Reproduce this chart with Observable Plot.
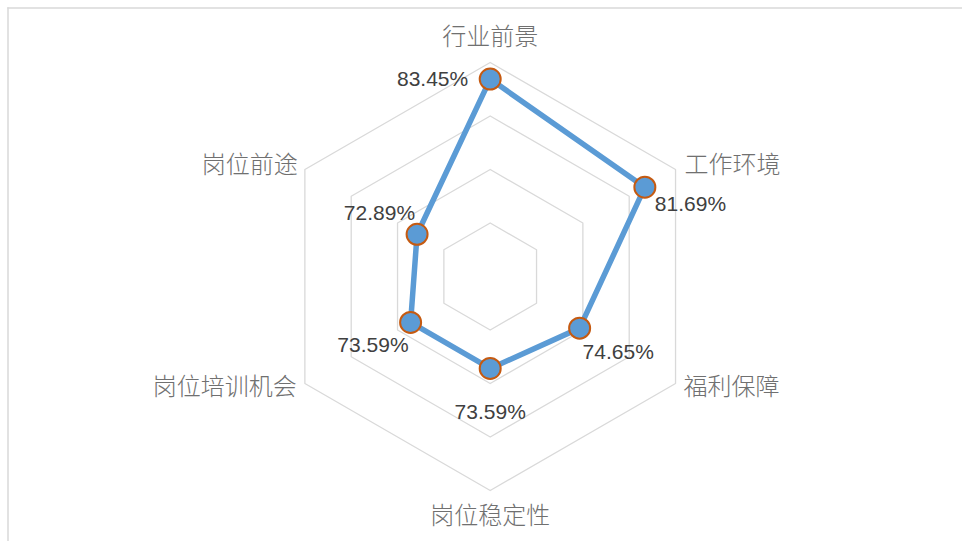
<!DOCTYPE html>
<html>
<head>
<meta charset="utf-8">
<script src="https://cdn.jsdelivr.net/npm/d3@7"></script>
<script src="https://cdn.jsdelivr.net/npm/@observablehq/plot@0.6"></script>
<style>
  html, body { margin: 0; padding: 0; background: #fff; }
  #chart svg { display: block; }
</style>
</head>
<body>
<div id="chart"></div>
<script>
// ---- data ----
const categories = ["行业前景", "工作环境", "福利保障", "岗位稳定性", "岗位培训机会", "岗位前途"];
const values = [83.45, 81.69, 74.65, 73.59, 73.59, 72.89];
const ringLevels = [70, 75, 80, 85];
const radialMin = 65;
const radialMax = 85;

// ---- layout / style ----
const W = 962, H = 541;
const cx = 489.7, cy = 276, R = 214;
const labelOffsets = [
  {dx: -22, dy: 0, anchor: "end"},
  {dx: 10, dy: 17, anchor: "start"},
  {dx: 3, dy: 24, anchor: "start"},
  {dx: 0, dy: 44, anchor: "middle"},
  {dx: -2, dy: 23, anchor: "end"},
  {dx: -2, dy: -21, anchor: "end"}
];
const catOffsets = [
  {dx: 0, dy: -25, anchor: "middle"},
  {dx: 9, dy: -4, anchor: "start"},
  {dx: 8, dy: 4, anchor: "start"},
  {dx: 0, dy: 26, anchor: "middle"},
  {dx: -8, dy: 4, anchor: "end"},
  {dx: -7, dy: -4, anchor: "end"}
];

const n = categories.length;
const norm = v => (v - radialMin) / (radialMax - radialMin);
const ang = i => (i * 2 * Math.PI) / n;
const px = (i, v) => norm(v) * Math.sin(ang(i));
const py = (i, v) => norm(v) * Math.cos(ang(i));

const rings = ringLevels.flatMap(level =>
  categories.map((c, i) => ({level, x: px(i, level), y: py(i, level)}))
);
const series = values.map((v, i) => ({
  cat: categories[i], v, x: px(i, v), y: py(i, v),
  label: v.toFixed(2) + "%", ...labelOffsets[i]
}));
const cats = categories.map((c, i) => ({
  cat: c, x: px(i, radialMax), y: py(i, radialMax), ...catOffsets[i]
}));

function textGroup(data, key, fill, size, family, weight) {
  return data.map(d => Plot.text([d], {
    x: "x", y: "y", text: key, dx: d.dx, dy: d.dy, textAnchor: d.anchor,
    lineAnchor: "middle", fill, fontSize: size, fontFamily: family, fontWeight: weight
  }));
}

const chart = Plot.plot({
  width: W,
  height: H,
  marginTop: 7.5,
  marginLeft: 7.5,
  marginRight: 0,
  marginBottom: 0,
  x: {type: "linear", domain: [-1, 1], range: [cx - R, cx + R], axis: null},
  y: {type: "linear", domain: [-1, 1], range: [cy + R, cy - R], axis: null},
  marks: [
    Plot.frame({anchor: "top", stroke: "#d9d9d9", strokeWidth: 1.5}),
    Plot.frame({anchor: "left", stroke: "#d9d9d9", strokeWidth: 1.5}),
    Plot.line(rings, {x: "x", y: "y", z: "level", curve: "linear-closed", stroke: "#d9d9d9", strokeWidth: 1.3}),
    Plot.line(series, {x: "x", y: "y", curve: "linear-closed", stroke: "#5b9bd5", strokeWidth: 5.5, strokeLinejoin: "round"}),
    Plot.dot(series, {x: "x", y: "y", r: 10.5, fill: "#5b9bd5", stroke: "#c55a11", strokeWidth: 2}),
    ...textGroup(series, "label", "#404040", 21, "'Liberation Sans', Arial, sans-serif", 400),
    ...textGroup(cats, "cat", "#707070", 24, "'Noto Sans CJK SC', sans-serif", 300)
  ]
});
document.getElementById("chart").appendChild(chart);
</script>
</body>
</html>
